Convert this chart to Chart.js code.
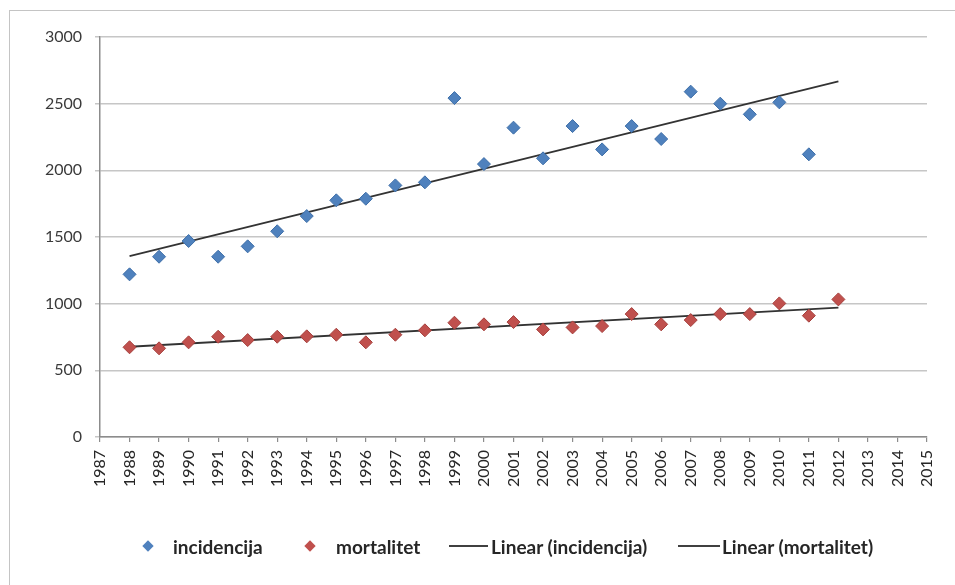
<!DOCTYPE html>
<html>
<head>
<meta charset="utf-8">
<script src="https://cdn.jsdelivr.net/npm/chart.js@4.4.1/dist/chart.umd.min.js"></script>
<style>
  html, body { margin: 0; padding: 0; background: #fff; }
  #wrap { position: relative; width: 955px; height: 585px; overflow: hidden; }
  #frame { position: absolute; left: 9px; top: 10px; width: 960px; height: 600px; border: 1.5px solid #c4c4c4; box-sizing: border-box; }
  #chart { position: absolute; left: 0; top: 0; }
  .leg { position: absolute; top: 546px; transform: translateY(-50%); font-family: Lato, "Noto Sans", sans-serif; font-weight: bold; font-size: 19px; color: #262626; white-space: nowrap; }
  .dia { position: absolute; top: 546px; width: 8px; height: 8px; margin-top: -4px; transform: rotate(45deg); }
  .ln { position: absolute; top: 545px; height: 2px; background: #404040; }
</style>
</head>
<body>
<div id="wrap">
  <div id="frame"></div>
  <canvas id="chart" width="955" height="585"></canvas>
  <div id="legend"></div>
</div>
<script>
const years = [1988, 1989, 1990, 1991, 1992, 1993, 1994, 1995, 1996, 1997, 1998, 1999, 2000,
               2001, 2002, 2003, 2004, 2005, 2006, 2007, 2008, 2009, 2010, 2011, 2012];

const incidencija = [1220, 1352, 1470, 1352, 1430, 1543, 1657, 1775, 1787, 1887, 1910, 2542, 2047,
                     2320, 2090, 2332, 2157, 2332, 2235, 2590, 2500, 2420, 2510, 2120, null];

const mortalitet = [673, 665, 710, 752, 727, 752, 755, 767, 710, 767, 800, 857, 845,
                    862, 807, 822, 832, 922, 845, 877, 922, 922, 1002, 910, 1032];

// trendline ends
const trendYears = [1988, 2012];
const trendInc = [1357, 2667];
const trendMort = [677, 970];

const seriesNames = ["incidencija", "mortalitet", "Linear (incidencija)", "Linear (mortalitet)"];

const blue = "#4f81bd";
const red = "#c0504d";
const trendColor = "#333333";

function pts(xs, ys) {
  return xs.map((x, i) => ({ x: x, y: ys[i] })).filter(p => p.y !== null);
}

const chart = new Chart(document.getElementById("chart"), {
  type: "scatter",
  data: {
    datasets: [
      { label: seriesNames[0], data: pts(years, incidencija), pointStyle: "rectRot", pointRadius: 6.5,
        backgroundColor: blue, borderColor: "#3d6ea8", borderWidth: 1 },
      { label: seriesNames[1], data: pts(years, mortalitet), pointStyle: "rectRot", pointRadius: 6.5,
        backgroundColor: red, borderColor: "#a5403d", borderWidth: 1 },
      { label: seriesNames[2], data: pts(trendYears, trendInc), showLine: true, pointRadius: 0,
        borderColor: trendColor, borderWidth: 1.8 },
      { label: seriesNames[3], data: pts(trendYears, trendMort), showLine: true, pointRadius: 0,
        borderColor: trendColor, borderWidth: 1.8 }
    ]
  },
  options: {
    responsive: false,
    animation: false,
    layout: { padding: { left: 0, right: 28, top: 37, bottom: 0 } },
    plugins: { legend: { display: false }, tooltip: { enabled: false } },
    scales: {
      x: {
        type: "linear",
        min: 1987,
        max: 2015,
        afterFit: s => { s.height = 148; },
        border: { color: "#8c8c8c", width: 1.5 },
        grid: { drawOnChartArea: false, color: "#8c8c8c", tickLength: 5, lineWidth: 1.2 },
        ticks: {
          stepSize: 1,
          autoSkip: false,
          minRotation: 90,
          maxRotation: 90,
          padding: 8,
          color: "#262626",
          font: { family: "Lato", size: 16 },
          callback: v => String(v)
        }
      },
      y: {
        min: 0,
        max: 3000,
        afterFit: s => { s.width = 100; },
        border: { color: "#8c8c8c", width: 1.5 },
        grid: { color: "#c6c6c6", lineWidth: 1.5, tickLength: 5 },
        ticks: {
          stepSize: 500,
          padding: 13,
          color: "#3a3a3a",
          font: { family: "Lato", size: 16 },
          callback: v => String(v)
        }
      }
    }
  }
});

// legend, laid out like the Excel one
const legend = document.getElementById("legend");
const legendItems = [
  { kind: "dia", color: blue, mark: 148, text: 173 },
  { kind: "dia", color: red, mark: 310, text: 336 },
  { kind: "ln", from: 449, to: 488, text: 491 },
  { kind: "ln", from: 678, to: 720, text: 722 }
];
legendItems.forEach((it, i) => {
  const m = document.createElement("div");
  m.className = it.kind;
  if (it.kind === "dia") {
    m.style.left = (it.mark - 4) + "px";
    m.style.background = it.color;
  } else {
    m.style.left = it.from + "px";
    m.style.width = (it.to - it.from) + "px";
  }
  legend.appendChild(m);
  const t = document.createElement("div");
  t.className = "leg";
  t.style.left = it.text + "px";
  t.textContent = seriesNames[i];
  legend.appendChild(t);
});
</script>
</body>
</html>
